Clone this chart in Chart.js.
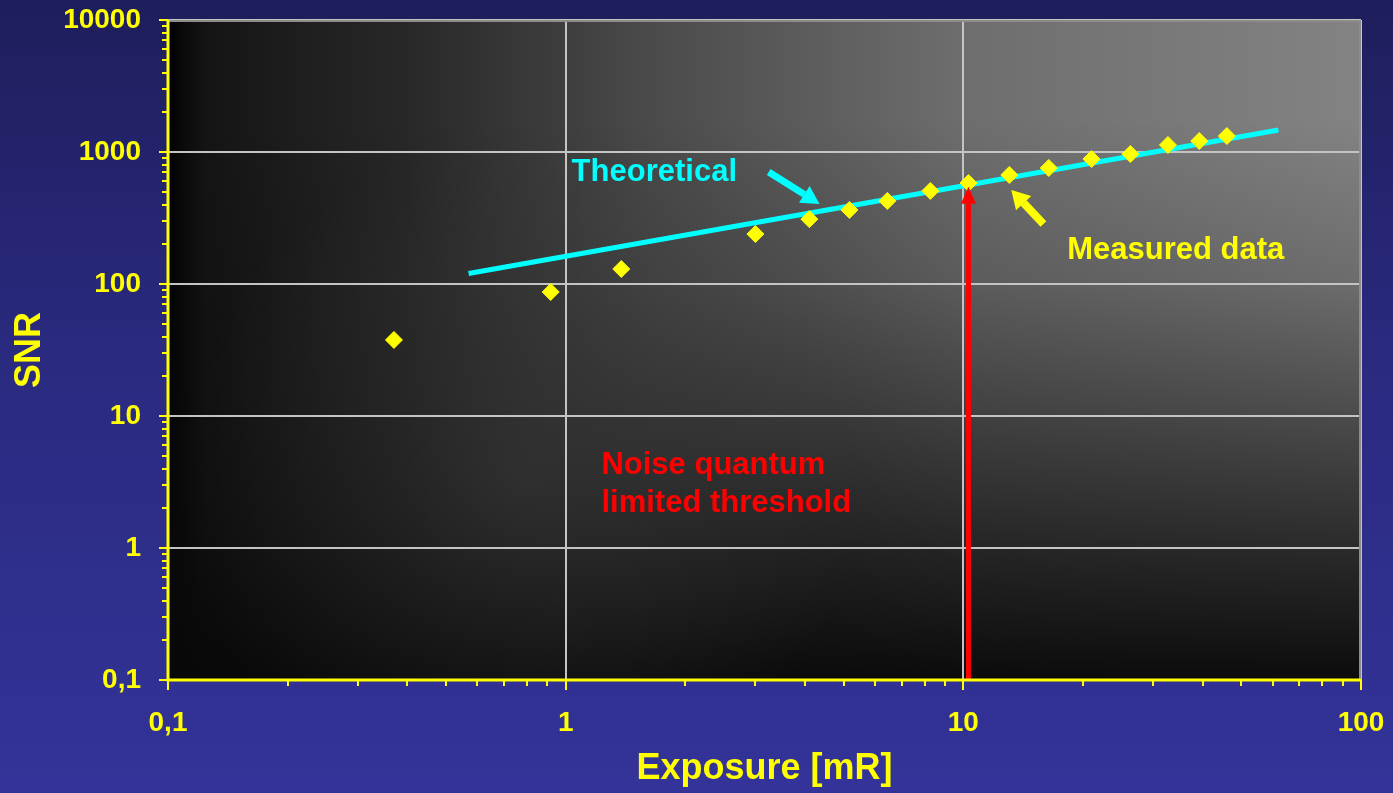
<!DOCTYPE html>
<html>
<head>
<meta charset="utf-8">
<script src="https://cdn.jsdelivr.net/npm/chart.js@4"></script>
<style>
  html, body { margin: 0; padding: 0; }
  body { width: 1393px; height: 793px; background: linear-gradient(to bottom, #1e1e5c 0%, #2a2a80 45%, #333399 100%); overflow: hidden; }
  #wrap { position: relative; width: 1393px; height: 793px; }
</style>
</head>
<body>
<div id="wrap"><canvas id="c" width="1393" height="793"></canvas></div>
<script>
// ---- data ----
const measuredExposure = [0.37, 0.917, 1.38, 3.0, 4.1, 5.17, 6.44, 8.26, 10.3, 13.05, 16.4, 21.0, 26.3, 32.7, 39.2, 46.0];
const measuredSNR      = [37.7, 87, 130, 239, 310, 364, 426, 507, 582, 670, 757, 885, 966, 1130, 1211, 1321];
const theoreticalExposure = [0.57, 62];
const theoreticalSNR      = [120, 1470];
const xMajorTicks = [0.1, 1, 10, 100];
const yMajorTicks = [0.1, 1, 10, 100, 1000, 10000];
const thresholdExposure = 10.3;
const thresholdSNRRange = [0.1, 545];

const YELLOW = '#ffff00';
const FONT = '"Liberation Sans", Arial, sans-serif';

function logTicks(majors) {
  const out = [];
  for (let i = 0; i < majors.length; i++) {
    const m = majors[i];
    out.push({ value: m, major: true });
    if (i < majors.length - 1) {
      for (let k = 2; k <= 9; k++) out.push({ value: +(m * k).toPrecision(6), major: false });
    }
  }
  return out;
}
function isMajor(v, majors) { return majors.some(m => Math.abs(v / m - 1) < 1e-9); }
function fmt(v) { return v === 0.1 ? '0,1' : String(v); }

const bgPlugin = {
  id: 'plotBg',
  beforeDraw(chart) {
    const { ctx, chartArea: a } = chart;
    ctx.save();
    const w = a.right - a.left, h = a.bottom - a.top;
    const gh = ctx.createLinearGradient(a.left, 0, a.right, 0);
    gh.addColorStop(0, '#000000');
    gh.addColorStop(0.01, '#080808');
    gh.addColorStop(0.03, '#141414');
    gh.addColorStop(0.11, '#1e1e1e');
    gh.addColorStop(0.2, '#282828');
    gh.addColorStop(0.32, '#3c3c3c');
    gh.addColorStop(0.4, '#4a4a4a');
    gh.addColorStop(0.67, '#6e6e6e');
    gh.addColorStop(1, '#838383');
    ctx.fillStyle = gh;
    ctx.fillRect(a.left, a.top, w, h);
    const gv = ctx.createLinearGradient(0, a.top, 0, a.bottom);
    gv.addColorStop(0, 'rgba(10,10,10,0)');
    gv.addColorStop(0.15, 'rgba(10,10,10,0)');
    gv.addColorStop(0.4, 'rgba(10,10,10,0.19)');
    gv.addColorStop(0.6, 'rgba(10,10,10,0.46)');
    gv.addColorStop(0.8, 'rgba(10,10,10,0.73)');
    gv.addColorStop(1, 'rgba(8,8,8,0.97)');
    ctx.fillStyle = gv;
    ctx.fillRect(a.left, a.top, w, h);
    const cx = 520, cy = 480;
    const gr = ctx.createRadialGradient(cx, cy, 0, cx, cy, 340);
    gr.addColorStop(0, 'rgba(85,85,85,0.32)');
    gr.addColorStop(1, 'rgba(85,85,85,0)');
    ctx.fillStyle = gr;
    ctx.fillRect(a.left, a.top, w, h);
    ctx.restore();
  }
};

function arrow(ctx, x1, y1, x2, y2, color, lw, headLen, headW) {
  const ang = Math.atan2(y2 - y1, x2 - x1);
  const bx = x2 - Math.cos(ang) * headLen, by = y2 - Math.sin(ang) * headLen;
  ctx.save();
  ctx.strokeStyle = color; ctx.fillStyle = color; ctx.lineWidth = lw; ctx.lineCap = 'butt';
  ctx.beginPath(); ctx.moveTo(x1, y1); ctx.lineTo(bx, by); ctx.stroke();
  const px = -Math.sin(ang) * headW / 2, py = Math.cos(ang) * headW / 2;
  ctx.beginPath();
  ctx.moveTo(x2, y2); ctx.lineTo(bx + px, by + py); ctx.lineTo(bx - px, by - py); ctx.closePath(); ctx.fill();
  ctx.restore();
}

const annoPlugin = {
  id: 'anno',
  afterDatasetsDraw(chart) {
    const { ctx, scales: { x, y } } = chart;
    const X = v => x.getPixelForValue(v), Y = v => y.getPixelForValue(v);
    arrow(ctx, X(thresholdExposure), Y(thresholdSNRRange[0]), X(thresholdExposure), Y(thresholdSNRRange[1]), '#ff0000', 5, 17, 15);
    arrow(ctx, X(3.24), Y(705), X(4.35), Y(404), '#00ffff', 7, 18, 20);
    arrow(ctx, X(15.9), Y(285), X(13.2), Y(515), YELLOW, 8, 18, 21);
    ctx.save();
    ctx.font = 'bold 31px ' + FONT;
    ctx.textAlign = 'left'; ctx.textBaseline = 'middle';
    ctx.fillStyle = '#00ffff';
    ctx.fillText('Theoretical', X(1.035), Y(705));
    ctx.fillStyle = YELLOW;
    ctx.fillText('Measured data', X(18.25), Y(178));
    ctx.fillStyle = '#ff0000';
    ctx.fillText('Noise quantum', X(1.23), Y(4.25));
    ctx.fillText('limited threshold', X(1.23), Y(2.16));
    ctx.restore();
  },
  afterDraw(chart) {
    const { ctx, chartArea: a, scales: { x, y } } = chart;
    ctx.save();
    ctx.strokeStyle = '#8c8c8c'; ctx.lineWidth = 2;
    ctx.beginPath(); ctx.moveTo(a.left, a.top + 1); ctx.lineTo(a.right - 1, a.top + 1); ctx.lineTo(a.right - 1, a.bottom); ctx.stroke();
    ctx.strokeStyle = YELLOW; ctx.lineWidth = 3;
    ctx.beginPath(); ctx.moveTo(a.left, a.top); ctx.lineTo(a.left, a.bottom); ctx.lineTo(a.right, a.bottom); ctx.stroke();
    ctx.lineWidth = 2;
    y.ticks.forEach(t => {
      const py = Math.round(y.getPixelForValue(t.value));
      const len = t.major ? 9 : 6;
      ctx.beginPath(); ctx.moveTo(a.left - len, py); ctx.lineTo(a.left, py); ctx.stroke();
    });
    x.ticks.forEach(t => {
      const px = Math.round(x.getPixelForValue(t.value));
      const len = t.major ? 10 : 6;
      ctx.beginPath(); ctx.moveTo(px, a.bottom); ctx.lineTo(px, a.bottom + len); ctx.stroke();
    });
    ctx.restore();
  }
};

const measuredData = measuredExposure.map((v, i) => ({ x: v, y: measuredSNR[i] }));
const theoreticalData = theoreticalExposure.map((v, i) => ({ x: v, y: theoreticalSNR[i] }));

new Chart(document.getElementById('c'), {
  type: 'scatter',
  data: {
    datasets: [
      { label: 'Theoretical', data: theoreticalData, showLine: true, borderColor: '#00ffff', borderWidth: 5, pointRadius: 0, order: 2 },
      { label: 'Measured data', data: measuredData, pointStyle: 'rectRot', pointRadius: 8.5, pointBackgroundColor: YELLOW, pointBorderColor: YELLOW, pointBorderWidth: 1, order: 1 }
    ]
  },
  options: {
    responsive: false,
    animation: false,
    layout: { padding: { top: 20, right: 32, left: 0, bottom: 0 } },
    plugins: { legend: { display: false }, tooltip: { enabled: false } },
    scales: {
      x: {
        type: 'logarithmic', min: 0.1, max: 100,
        afterBuildTicks: s => { s.ticks = logTicks(xMajorTicks); },
        afterFit: s => { s.height = 113; s.paddingLeft = 0; s.paddingRight = 0; },
        grid: { color: c => (c.tick && isMajor(c.tick.value, xMajorTicks)) ? '#c4c4c4' : 'rgba(0,0,0,0)', lineWidth: 2, drawTicks: false },
        border: { display: false },
        ticks: { autoSkip: false, maxRotation: 0, padding: 26, color: YELLOW, font: { family: FONT, size: 28, weight: 'bold' },
          callback: v => isMajor(v, xMajorTicks) ? fmt(v) : '' },
        title: { display: true, text: 'Exposure [mR]', color: YELLOW, font: { family: FONT, size: 36, weight: 'bold' }, padding: { top: 0, bottom: 2 } }
      },
      y: {
        type: 'logarithmic', min: 0.1, max: 10000,
        afterBuildTicks: s => { s.ticks = logTicks(yMajorTicks); },
        afterFit: s => { s.width = 168; s.paddingTop = 0; s.paddingBottom = 0; },
        grid: { color: c => (c.tick && isMajor(c.tick.value, yMajorTicks)) ? '#c4c4c4' : 'rgba(0,0,0,0)', lineWidth: 2, drawTicks: false },
        border: { display: false },
        ticks: { autoSkip: false, padding: 27, color: YELLOW, font: { family: FONT, size: 28, weight: 'bold' },
          callback: v => isMajor(v, yMajorTicks) ? fmt(v) : '' },
        title: { display: true, text: 'SNR', color: YELLOW, font: { family: FONT, size: 36, weight: 'bold' }, padding: { top: 8, bottom: 0 } }
      }
    }
  },
  plugins: [bgPlugin, annoPlugin]
});
</script>
</body>
</html>
